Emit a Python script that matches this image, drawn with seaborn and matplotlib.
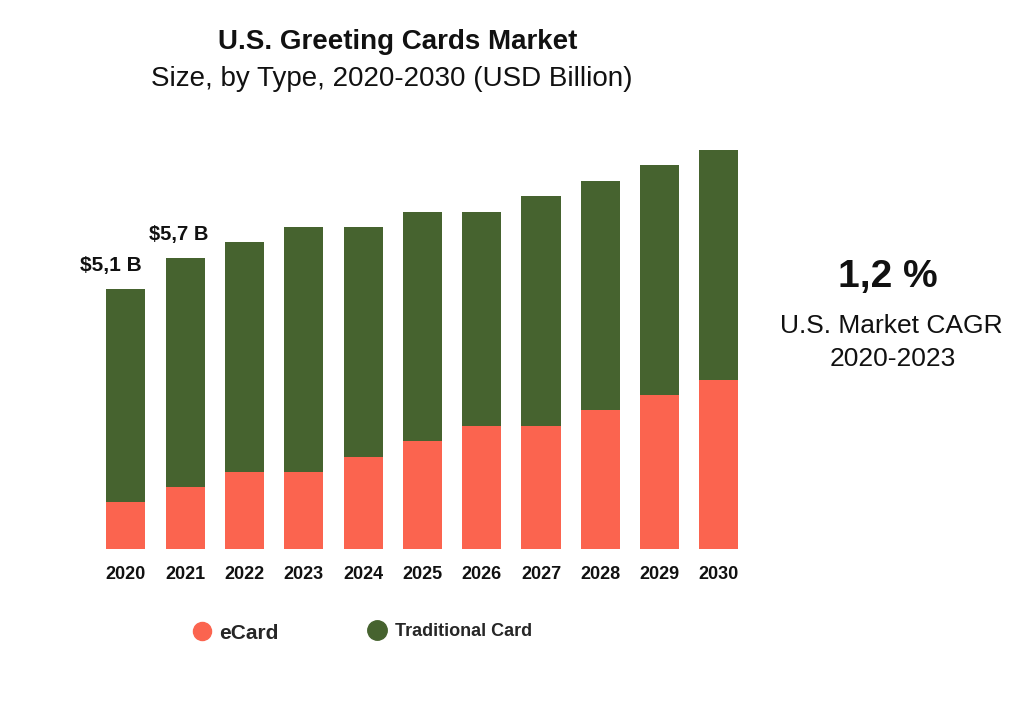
import numpy as np
import pandas as pd
import matplotlib.pyplot as plt
import seaborn as sns
from matplotlib.lines import Line2D

# Values (USD billion)
years = ["2020", "2021", "2022", "2023", "2024", "2025", "2026", "2027", "2028", "2029", "2030"]
ecard = [0.92, 1.22, 1.51, 1.51, 1.80, 2.12, 2.41, 2.41, 2.73, 3.02, 3.31]
total = [5.10, 5.70, 6.02, 6.31, 6.31, 6.61, 6.61, 6.92, 7.22, 7.53, 7.82]
traditional = [t - e for t, e in zip(total, ecard)]
bar_labels = {"2020": "$5,1 B", "2021": "$5,7 B"}

ecard_color = "#fb644f"
trad_color = "#46632f"

df = pd.DataFrame({"year": years, "eCard": ecard, "Traditional Card": traditional})
df["total"] = df["eCard"] + df["Traditional Card"]

sns.set_theme(style="white")
plt.rcParams["font.family"] = ["Liberation Sans", "DejaVu Sans"]

fig = plt.figure(figsize=(10.24, 7.17), dpi=100)
ax = fig.add_axes([0.094, 0.2343, 0.637, 0.6046])

# stacked bars: draw the totals, then the eCard part over them
sns.barplot(data=df, x="year", y="total", color=trad_color, width=0.66,
            saturation=1, linewidth=0, ax=ax)
sns.barplot(data=df, x="year", y="eCard", color=ecard_color, width=0.66,
            saturation=1, linewidth=0, ax=ax)

ax.set_xlim(-0.5, 10.5)
ax.set_ylim(0, 8.5)
ax.set_xlabel("")
ax.set_ylabel("")
ax.set_yticks([])
sns.despine(ax=ax, left=True, bottom=True)
ax.tick_params(axis="x", length=0, pad=12)
for lbl in ax.get_xticklabels():
    lbl.set_fontweight("bold")
    lbl.set_fontsize(13)
    lbl.set_color("#111111")

# value labels above the first two bars (small shift left, as in the original)
label_shift = {"2020": -0.25, "2021": -0.11}
label_size = {"2020": 15, "2021": 14.5}
for i, y in enumerate(years):
    if y in bar_labels:
        ax.text(i + label_shift[y], df["total"][i] + 0.46, bar_labels[y], ha="center",
                va="center", fontsize=label_size[y], fontweight="bold", color="#111111")

fig.text(0.388, 0.941, "U.S. Greeting Cards Market", ha="center", va="center",
         fontsize=20, fontweight="bold", color="#111111")
fig.text(0.383, 0.890, "Size, by Type, 2020-2030 (USD Billion)", ha="center",
         va="center", fontsize=20, color="#111111")

fig.text(0.867, 0.613, "1,2 %", ha="center", va="center", fontsize=28,
         fontweight="bold", color="#111111")
fig.text(0.870, 0.545, "U.S. Market CAGR", ha="center", va="center",
         fontsize=19, color="#111111")
fig.text(0.872, 0.500, "2020-2023", ha="center", va="center",
         fontsize=19, color="#111111")

h_ecard = Line2D([], [], marker="o", linestyle="", markersize=13, color=ecard_color)
h_trad = Line2D([], [], marker="o", linestyle="", markersize=14, color=trad_color)
fig.legend([h_ecard], ["eCard"], loc="center left",
           bbox_to_anchor=(0.187, 0.117), frameon=False, borderpad=0,
           borderaxespad=0, prop={"weight": "bold", "size": 15},
           handletextpad=0.32, handlelength=1.0)
fig.legend([h_trad], ["Traditional Card"], loc="center left",
           bbox_to_anchor=(0.3584, 0.119), frameon=False, borderpad=0,
           borderaxespad=0, prop={"weight": "bold", "size": 13},
           handletextpad=0.45, handlelength=1.1)

fig.savefig("out.png", dpi=100, facecolor="white")
